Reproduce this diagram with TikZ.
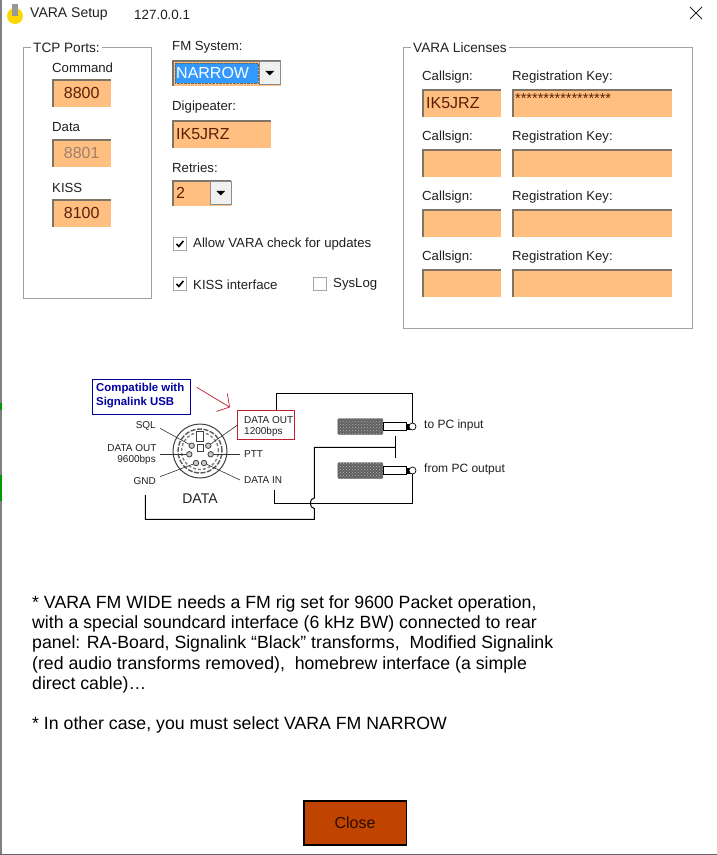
\documentclass[tikz,border=0pt]{standalone}
\usepackage{fontspec}
\setmainfont{Liberation Sans}
\usepackage{xcolor}
\usetikzlibrary{arrows.meta,calc,patterns}
\definecolor{fieldorange}{HTML}{FFBF80}
\definecolor{fieldtext}{HTML}{5A2008}
\definecolor{fielddim}{HTML}{A08070}
\definecolor{framegray}{HTML}{A0A0A0}
\definecolor{insetgray}{HTML}{7F7468}
\definecolor{selectblue}{HTML}{3399FF}
\definecolor{closerust}{HTML}{C04400}
\definecolor{uitext}{HTML}{202020}
\definecolor{linkblue}{HTML}{0000A0}
\definecolor{boxred}{HTML}{C02030}
\tikzset{
  uilabel/.style={anchor=west,inner sep=0pt,text=uitext,font=\fontsize{13.2}{15}\selectfont},
  grouptitle/.style={uilabel,fill=white,inner xsep=2pt,inner ysep=1pt,font=\fontsize{13.6}{15}\selectfont},
  groupbox/.style={draw=framegray,line width=0.8pt,anchor=north west,inner sep=0pt},
  field/.style 2 args={anchor=north west,fill=fieldorange,inner xsep=4pt,inner ysep=0pt,
    minimum width=#1pt,minimum height=#2pt,text width=#1pt-8pt,align=left,text=fieldtext,
    font=\fontsize{16}{18}\selectfont,
    path picture={\draw[insetgray,line width=3.4pt] (path picture bounding box.south west)
      -- (path picture bounding box.north west) -- (path picture bounding box.north east);}},
  dropbtn/.style={anchor=north west,fill=black!6,draw=black!45,line width=0.6pt,inner sep=0pt,
    minimum width=21pt,minimum height=23pt},
  tickbox/.style={anchor=north west,draw=black!35,line width=0.8pt,inner sep=0pt,minimum size=13pt},
  wire/.style={line width=1pt,black},
  leader/.style={line width=0.6pt,black!80},
  pinmark/.style={circle,draw=black!75,line width=0.8pt,fill=black!20,inner sep=0pt,minimum size=5.5pt},
  tiny/.style={anchor=west,inner sep=0pt,text=uitext,font=\fontsize{10}{12}\selectfont},
  tinyr/.style={tiny,anchor=east},
  sleeve/.style={anchor=north west,preaction={fill=black!62},pattern=crosshatch dots,pattern color=black!30,
    draw=black!60,rounded corners=1pt,inner sep=0pt,minimum width=45pt,minimum height=16pt},
  tipring/.style={circle,draw=black,line width=0.7pt,fill=white,inner sep=0pt,minimum size=7pt},
  bodyline/.style={anchor=west,inner sep=0pt,text=black,font=\fontsize{17.7}{20}\selectfont}
}
\begin{document}
\begin{tikzpicture}[x=1pt,y=-1pt]
  \useasboundingbox (0,0) rectangle (717,855);
  \fill[white] (0,0) rectangle (717,855);
  \fill[black!50] (0,0) rectangle (1.8,855);
  \fill[green!60!black] (0,403) rectangle (1.8,410);
  \fill[green!60!black] (0,475) rectangle (1.8,501);
  \fill[black!60] (0,853.5) rectangle (717,855);

  \fill[yellow!75!orange] (15,16) circle (8);
  \fill[black!40] (12,4) rectangle (18,16);
  \node[uilabel,font=\fontsize{14}{16}\selectfont] (titlename) at (30,14.5) {VARA Setup};
  \node[uilabel,font=\fontsize{13.4}{16}\selectfont] (titleip) at (134,14.5) {127.0.0.1};
  \coordinate (closea) at (690,7);
  \coordinate (closeb) at (702,19);
  \coordinate (closec) at (690,19);
  \coordinate (closed) at (702,7);
  \draw[line width=0.8pt,black!85] (closea) -- (closeb);
  \draw[line width=0.8pt,black!85] (closec) -- (closed);

  \node[groupbox,minimum width=128.5pt,minimum height=251pt] (tcpgroup) at (22.5,47) {};
  \node[grouptitle] (tcptitle) at (31,47.5) {TCP Ports:};
  \node[uilabel] (cmdlabel) at (52,67.5) {Command};
  \node[field={59}{28},align=center] (cmdfield) at (52,79) {8800};
  \node[uilabel] (datalabel) at (52,127.5) {Data};
  \node[field={59}{28},align=center,text=fielddim] (datafield) at (52,139) {8801};
  \node[uilabel] (kisslabel) at (52,187.5) {KISS};
  \node[field={59}{28},align=center] (kissfield) at (52,199) {8100};

  \node[uilabel] (fmlabel) at (172,47.5) {FM System:};
  \node[field={109}{26}] (fmfield) at (172,60) {};
  \node[anchor=north west,fill=selectblue,draw=black!60,densely dotted,inner xsep=1pt,inner ysep=0pt,
    minimum width=83pt,minimum height=20pt,text width=81pt,text=white,
    font=\fontsize{16}{18}\selectfont] (fmvalue) at (175,63) {NARROW};
  \node[dropbtn] (fmbtn) at (259,61) {};
  \fill[black] ($(fmbtn.center)+(-4.5,-2)$) -- ($(fmbtn.center)+(4.5,-2)$) -- ($(fmbtn.center)+(0,2.5)$) -- cycle;
  \node[uilabel] (digilabel) at (172,107.5) {Digipeater:};
  \node[field={99}{28}] (digifield) at (172,120) {IK5JRZ};
  \node[uilabel] (retrylabel) at (172,167.5) {Retries:};
  \node[field={59}{26}] (retryfield) at (172,180) {2};
  \node[dropbtn] (retrybtn) at (210,181) {};
  \fill[black] ($(retrybtn.center)+(-4.5,-2)$) -- ($(retrybtn.center)+(4.5,-2)$) -- ($(retrybtn.center)+(0,2.5)$) -- cycle;

  \node[tickbox] (updatebox) at (173,237) {};
  \draw[line width=1.6pt,black] ($(updatebox.center)+(-3.5,0)$) -- ($(updatebox.center)+(-1,2.5)$) -- ($(updatebox.center)+(3.5,-3)$);
  \node[uilabel] (updatelabel) at (193,244.5) {Allow VARA check for updates};
  \node[tickbox] (kissbox) at (173,277) {};
  \draw[line width=1.6pt,black] ($(kissbox.center)+(-3.5,0)$) -- ($(kissbox.center)+(-1,2.5)$) -- ($(kissbox.center)+(3.5,-3)$);
  \node[uilabel] (kissiface) at (193,284.5) {KISS interface};
  \node[tickbox] (sysbox) at (313,277) {};
  \node[uilabel] (syslabel) at (333,284.5) {SysLog};

  \node[groupbox,minimum width=289.5pt,minimum height=281pt] (licgroup) at (402.5,47) {};
  \node[grouptitle] (lictitle) at (411,47.5) {VARA Licenses};
  \node[uilabel] (calla) at (422,77.5) {Callsign:};
  \node[uilabel] (keya) at (512,77.5) {Registration Key:};
  \node[field={79}{28}] (callfielda) at (422,89) {IK5JRZ};
  \node[field={160}{28}] (keyfielda) at (512,89) {};
  \node[anchor=west,inner sep=0pt,text=fieldtext,font=\fontsize{14.5}{14}\selectfont] (keystars) at (515,99) {*****************};
  \node[uilabel] (callb) at (422,137.5) {Callsign:};
  \node[uilabel] (keyb) at (512,137.5) {Registration Key:};
  \node[field={79}{28}] (callfieldb) at (422,149) {};
  \node[field={160}{28}] (keyfieldb) at (512,149) {};
  \node[uilabel] (callc) at (422,197.5) {Callsign:};
  \node[uilabel] (keyc) at (512,197.5) {Registration Key:};
  \node[field={79}{28}] (callfieldc) at (422,209) {};
  \node[field={160}{28}] (keyfieldc) at (512,209) {};
  \node[uilabel] (calld) at (422,257.5) {Callsign:};
  \node[uilabel] (keyd) at (512,257.5) {Registration Key:};
  \node[field={79}{28}] (callfieldd) at (422,269) {};
  \node[field={160}{28}] (keyfieldd) at (512,269) {};

  \node[anchor=north west,draw=linkblue,line width=1pt,inner sep=0pt,minimum width=97.5pt,minimum height=34.5pt] (compatbox) at (92.3,379.3) {};
  \node[anchor=west,inner sep=0pt,text=linkblue,font=\fontsize{11.4}{12}\bfseries\selectfont] (compata) at (96,389) {Compatible with};
  \node[anchor=west,inner sep=0pt,text=linkblue,font=\fontsize{11.4}{12}\bfseries\selectfont] (compatb) at (96,403) {Signalink USB};
  \coordinate (arrowfrom) at (196.7,387.3);
  \coordinate (arrowto) at (230,407.3);
  \draw[-{Straight Barb[length=9pt,width=21pt]},boxred,line width=0.7pt] (arrowfrom) -- (arrowto);

  \node[anchor=north west,draw=boxred,line width=1pt,inner sep=0pt,minimum width=57pt,minimum height=28.7pt] (outbox) at (237.3,410.3) {};
  \node[tiny] (outa) at (244,420) {DATA OUT};
  \node[tiny] (outb) at (244,432) {1200bps};

  \node[circle,draw=black!75,line width=1pt,inner sep=0pt,minimum size=54pt] (din) at (200,451) {};
  \node[circle,draw=black!65,line width=1.4pt,dash pattern=on 5pt off 1.5pt,inner sep=0pt,minimum size=44pt] (dinring) at (200,451) {};
  \node[circle,draw=black!50,line width=1.4pt,dash pattern=on 3pt off 2pt,inner sep=0pt,minimum size=37pt] (dincore) at (200,451) {};
  \node[fill=white,draw=black!75,line width=0.7pt,inner sep=0pt,minimum width=7pt,minimum height=10pt] (dinnotch) at (200,436.7) {};
  \node[fill=white,draw=black!75,line width=0.7pt,inner sep=0pt,minimum width=6pt,minimum height=7pt] (dinkey) at (200,447.7) {};
  \node[pinmark] (pinsql) at (191.7,445.7) {};
  \node[pinmark] (pinnine) at (189.3,454.3) {};
  \node[pinmark] (pingnd) at (196,463) {};
  \node[pinmark] (pinin) at (204,463) {};
  \node[pinmark] (pinptt) at (210.7,454.3) {};
  \node[pinmark] (pinout) at (208.3,445.7) {};

  \node[tinyr] (sqllabel) at (156,425.7) {SQL};
  \node[tinyr] (ninea) at (156.7,448.3) {DATA OUT};
  \node[tinyr] (nineb) at (156,460) {9600bps};
  \node[tinyr] (gndlabel) at (156,481) {GND};
  \node[tiny] (pttlabel) at (244,454.3) {PTT};
  \node[tiny] (inlabel) at (244,480) {DATA IN};
  \node[inner sep=0pt,text=uitext,font=\fontsize{14}{15}\selectfont] (dinname) at (200,499) {DATA};
  \coordinate (sqlend) at (160,428.3);
  \coordinate (nineend) at (160,454.3);
  \coordinate (gndend) at (160,476.7);
  \coordinate (pttend) at (240,454.3);
  \coordinate (inend) at (240,480);
  \draw[leader] (sqlend) -- (pinsql);
  \draw[leader] (nineend) -- (pinnine);
  \draw[leader] (gndend) -- (pingnd);
  \draw[leader] (pttend) -- (pinptt);
  \draw[leader] (inend) -- (pinin);
  \draw[leader] (outbox.west) -- (pinout);

  \node[sleeve] (plugone) at (337.7,418.3) {};
  \node[sleeve] (plugtwo) at (337.7,462.3) {};
  \node[anchor=west,draw=black,fill=white,line width=0.7pt,inner sep=0pt,minimum width=23pt,minimum height=7.5pt] (shankone) at (plugone.east) {};
  \node[anchor=west,draw=black,fill=white,line width=0.7pt,inner sep=0pt,minimum width=23pt,minimum height=7.5pt] (shanktwo) at (plugtwo.east) {};
  \node[anchor=west,fill=black,inner sep=0pt,minimum width=4pt,minimum height=6pt] (endone) at (shankone.east) {};
  \node[anchor=west,fill=black,inner sep=0pt,minimum width=4pt,minimum height=6pt] (endtwo) at (shanktwo.east) {};
  \node[tipring] (ringone) at (412.5,426.5) {};
  \node[tipring] (ringtwo) at (412.5,470.5) {};
  \node[tiny,font=\fontsize{12}{13}\selectfont] (inputlabel) at (424,425.5) {to PC input};
  \node[tiny,font=\fontsize{12}{13}\selectfont] (outputlabel) at (424,469.5) {from PC output};

  \coordinate (topstart) at (276,410.3);
  \coordinate (topcorner) at (412.5,393.3);
  \draw[wire] (topstart) |- (topcorner) -- (ringone.north);
  \coordinate (tapup) at (395.7,436);
  \coordinate (tapdown) at (395.7,458);
  \coordinate (tapmid) at (395.7,447.3);
  \coordinate (hopcol) at (314.3,447.3);
  \coordinate (hoptop) at (314.3,498);
  \coordinate (hopend) at (314.3,508.5);
  \coordinate (gndcorner) at (314.3,519.3);
  \coordinate (gndstart) at (145.3,495);
  \draw[wire] (tapup) -- (tapdown);
  \draw[wire] (tapmid) -- (hopcol) -- (hoptop) .. controls (309,498) and (309,508.5) .. (hopend) -- (gndcorner) -| (gndstart);
  \coordinate (instart) at (274.3,490);
  \coordinate (incorner) at (412.5,503.3);
  \draw[wire] (instart) |- (incorner) -- (ringtwo.south);

  \node[bodyline] (notea) at (32,603.5) {* VARA FM WIDE needs a FM rig set for 9600 Packet operation,};
  \node[bodyline] (noteb) at (32,623.5) {with a special soundcard interface (6 kHz BW) connected to rear};
  \node[bodyline] (notec) at (32,643.5) {panel: RA-Board, Signalink “Black” transforms,\ \ Modified Signalink};
  \node[bodyline] (noted) at (32,664.5) {(red audio transforms removed),\ \ homebrew interface (a simple};
  \node[bodyline] (notee) at (32,684.5) {direct cable)…};
  \node[bodyline] (notef) at (32,724.5) {* In other case, you must select VARA FM NARROW};

  \node[anchor=north west,fill=closerust,draw=black,line width=1.6pt,inner sep=0pt,minimum width=102.5pt,minimum height=44pt,
    text=black!80!closerust,font=\fontsize{16}{18}\selectfont] (closebtn) at (303,800) {Close};
\end{tikzpicture}
\end{document}
